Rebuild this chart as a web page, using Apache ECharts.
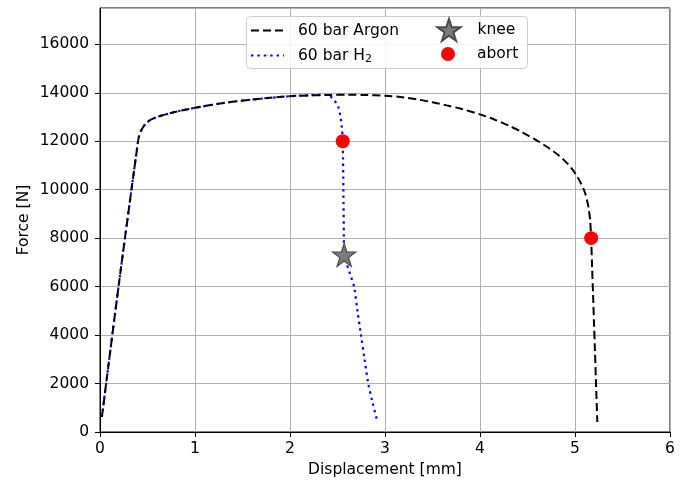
<!DOCTYPE html>
<html>
<head>
<meta charset="utf-8">
<script src="https://cdn.jsdelivr.net/npm/echarts@6/dist/echarts.min.js"></script>
<style>html,body{margin:0;padding:0;background:#fff;}#c{width:688px;height:483px;}</style>
</head>
<body>
<div id="c"></div>
<script>
// Data (displacement in mm, force in N)
const argonX = [0.02, 0.2, 0.39, 0.41, 0.44, 0.49, 0.55, 0.65, 0.8, 1.0, 1.3, 1.6, 2.0, 2.4, 2.6, 2.8, 3.0, 3.2, 3.35, 3.5, 3.65, 3.8, 4.0, 4.15, 4.3, 4.45, 4.6, 4.72, 4.82, 4.9, 4.96, 5.01, 5.06, 5.1, 5.125, 5.145, 5.16, 5.17, 5.18, 5.19, 5.2, 5.21, 5.22, 5.235];
const argonY = [620, 6150, 11700, 12200, 12500, 12760, 12920, 13060, 13220, 13380, 13580, 13720, 13860, 13910, 13915, 13910, 13880, 13810, 13720, 13610, 13480, 13340, 13110, 12900, 12650, 12360, 12030, 11730, 11440, 11160, 10900, 10630, 10280, 9930, 9600, 9200, 8700, 8000, 6800, 5700, 4500, 3350, 2150, 410];
const h2X = [0.02, 0.2, 0.39, 0.41, 0.44, 0.49, 0.55, 0.65, 0.8, 1.0, 1.3, 1.6, 2.0, 2.2, 2.38, 2.42, 2.456, 2.49, 2.51, 2.53, 2.545, 2.555, 2.562, 2.567, 2.57, 2.585, 2.60, 2.63, 2.674, 2.71, 2.747, 2.785, 2.824, 2.87, 2.92];
const h2Y = [620, 6150, 11700, 12200, 12500, 12760, 12920, 13060, 13220, 13380, 13580, 13720, 13860, 13900, 13920, 13880, 13720, 13560, 13400, 13040, 12600, 12000, 10000, 8000, 7310, 7100, 6900, 6550, 6000, 5000, 4000, 3000, 2000, 1200, 430];
const kneeX = [2.57];
const kneeY = [7310];
const abortX = [2.555, 5.17];
const abortY = [12000, 8000];
const xTicks = [0, 1, 2, 3, 4, 5, 6];
const yTicks = [0, 2000, 4000, 6000, 8000, 10000, 12000, 14000, 16000];

const pairs = (xs, ys) => xs.map((x, i) => [x, ys[i]]);
const FONT = 'DejaVu Sans';
const FS = 15.5;
const starPath = 'path://M50,2 L61.2,36 L97,36 L68,57 L79,91 L50,70 L21,91 L32,57 L3,36 L38.8,36 Z';

const chart = echarts.init(document.getElementById('c'));
const legendText = {fontFamily: FONT, fontSize: FS, color: '#000',
  rich: {
    gap: {width: 9},
    gap2: {width: 12},
    gap3: {width: 17},
    t: {fontFamily: FONT, fontSize: FS, color: '#000', lineHeight: 18},
    sub: {fontFamily: FONT, fontSize: 11, color: '#000', lineHeight: 18, verticalAlign: 'bottom', padding: [7, 0, 0, 0]}
  }};
chart.setOption({
  animation: false,
  backgroundColor: '#fff',
  textStyle: {fontFamily: FONT},
  grid: {left: 100, right: 18, top: 8, bottom: 51, show: true, borderColor: '#000', borderWidth: 1, backgroundColor: 'transparent'},
  graphic: [{
    type: 'rect', left: 246, top: 16, z: 90,
    shape: {width: 281, height: 52, r: 4},
    style: {fill: 'rgba(255,255,255,0.85)', stroke: '#cccccc', lineWidth: 1}
  }],
  legend: [
    {data: ['60 bar Argon'], left: 250, top: 22.5, padding: 0, itemWidth: 33, itemHeight: 1, z: 100,
     textStyle: legendText, formatter: n => '{gap| }{t|' + n + '}'},
    {data: ['60 bar H2'], left: 250, top: 46.5, padding: 0, itemWidth: 33, itemHeight: 1, z: 100,
     textStyle: legendText, formatter: () => '{gap| }{t|60 bar H}{sub|2}'},
    {data: ['knee'], left: 436.5, top: 18, padding: 0, itemWidth: 23, itemHeight: 22, z: 100,
     textStyle: legendText, formatter: n => '{gap2| }{t|' + n + '}'},
    {data: ['abort'], left: 441, top: 46, padding: 0, itemWidth: 14, itemHeight: 14, z: 100,
     textStyle: legendText, formatter: n => '{gap3| }{t|' + n + '}'}
  ],
  xAxis: {
    type: 'value', min: xTicks[0], max: xTicks[xTicks.length - 1], interval: 1,
    name: 'Displacement [mm]', nameLocation: 'middle', nameGap: 30,
    nameTextStyle: {fontFamily: FONT, fontSize: FS, color: '#000'},
    axisLine: {show: true, lineStyle: {color: '#000', width: 1}},
    axisTick: {show: true, length: 5, lineStyle: {color: '#000'}},
    axisLabel: {fontFamily: FONT, fontSize: FS, color: '#000', margin: 9},
    splitLine: {show: true, lineStyle: {color: '#b0b0b0', width: 1}}
  },
  yAxis: {
    type: 'value', min: 0, max: 17500, interval: 2000,
    name: 'Force [N]', nameLocation: 'middle', nameGap: 68, nameMoveOverlap: false,
    nameTextStyle: {fontFamily: FONT, fontSize: FS, color: '#000'},
    axisLine: {show: true, lineStyle: {color: '#000', width: 1}},
    axisTick: {show: true, length: 5, lineStyle: {color: '#000'}},
    axisLabel: {fontFamily: FONT, fontSize: FS, color: '#000', margin: 11, showMaxLabel: false,
      formatter: v => (yTicks.indexOf(v) >= 0 ? String(v) : '')},
    splitLine: {show: true, lineStyle: {color: '#b0b0b0', width: 1}}
  },
  series: [
    {name: '60 bar Argon', type: 'line', data: pairs(argonX, argonY), showSymbol: false, symbol: 'none',
     smooth: 0.3, lineStyle: {color: '#000', width: 2, type: [8, 4]}, itemStyle: {color: '#000'}, z: 3},
    {name: '60 bar H2', type: 'line', data: pairs(h2X, h2Y), showSymbol: false, symbol: 'none',
     smooth: 0.3, lineStyle: {color: '#0000ff', width: 2.2, type: [2.4, 4]}, itemStyle: {color: '#0000ff'}, z: 2},
    {name: 'knee', type: 'scatter', data: pairs(kneeX, kneeY), symbol: starPath, symbolSize: 23,
     itemStyle: {color: '#7a7a7a', borderColor: '#4a4a4a', borderWidth: 1.2, opacity: 1}, z: 5},
    {name: 'abort', type: 'scatter', data: pairs(abortX, abortY), symbol: 'circle', symbolSize: 14,
     itemStyle: {color: '#ff0000', opacity: 1}, z: 6}
  ]
});
</script>
</body>
</html>
